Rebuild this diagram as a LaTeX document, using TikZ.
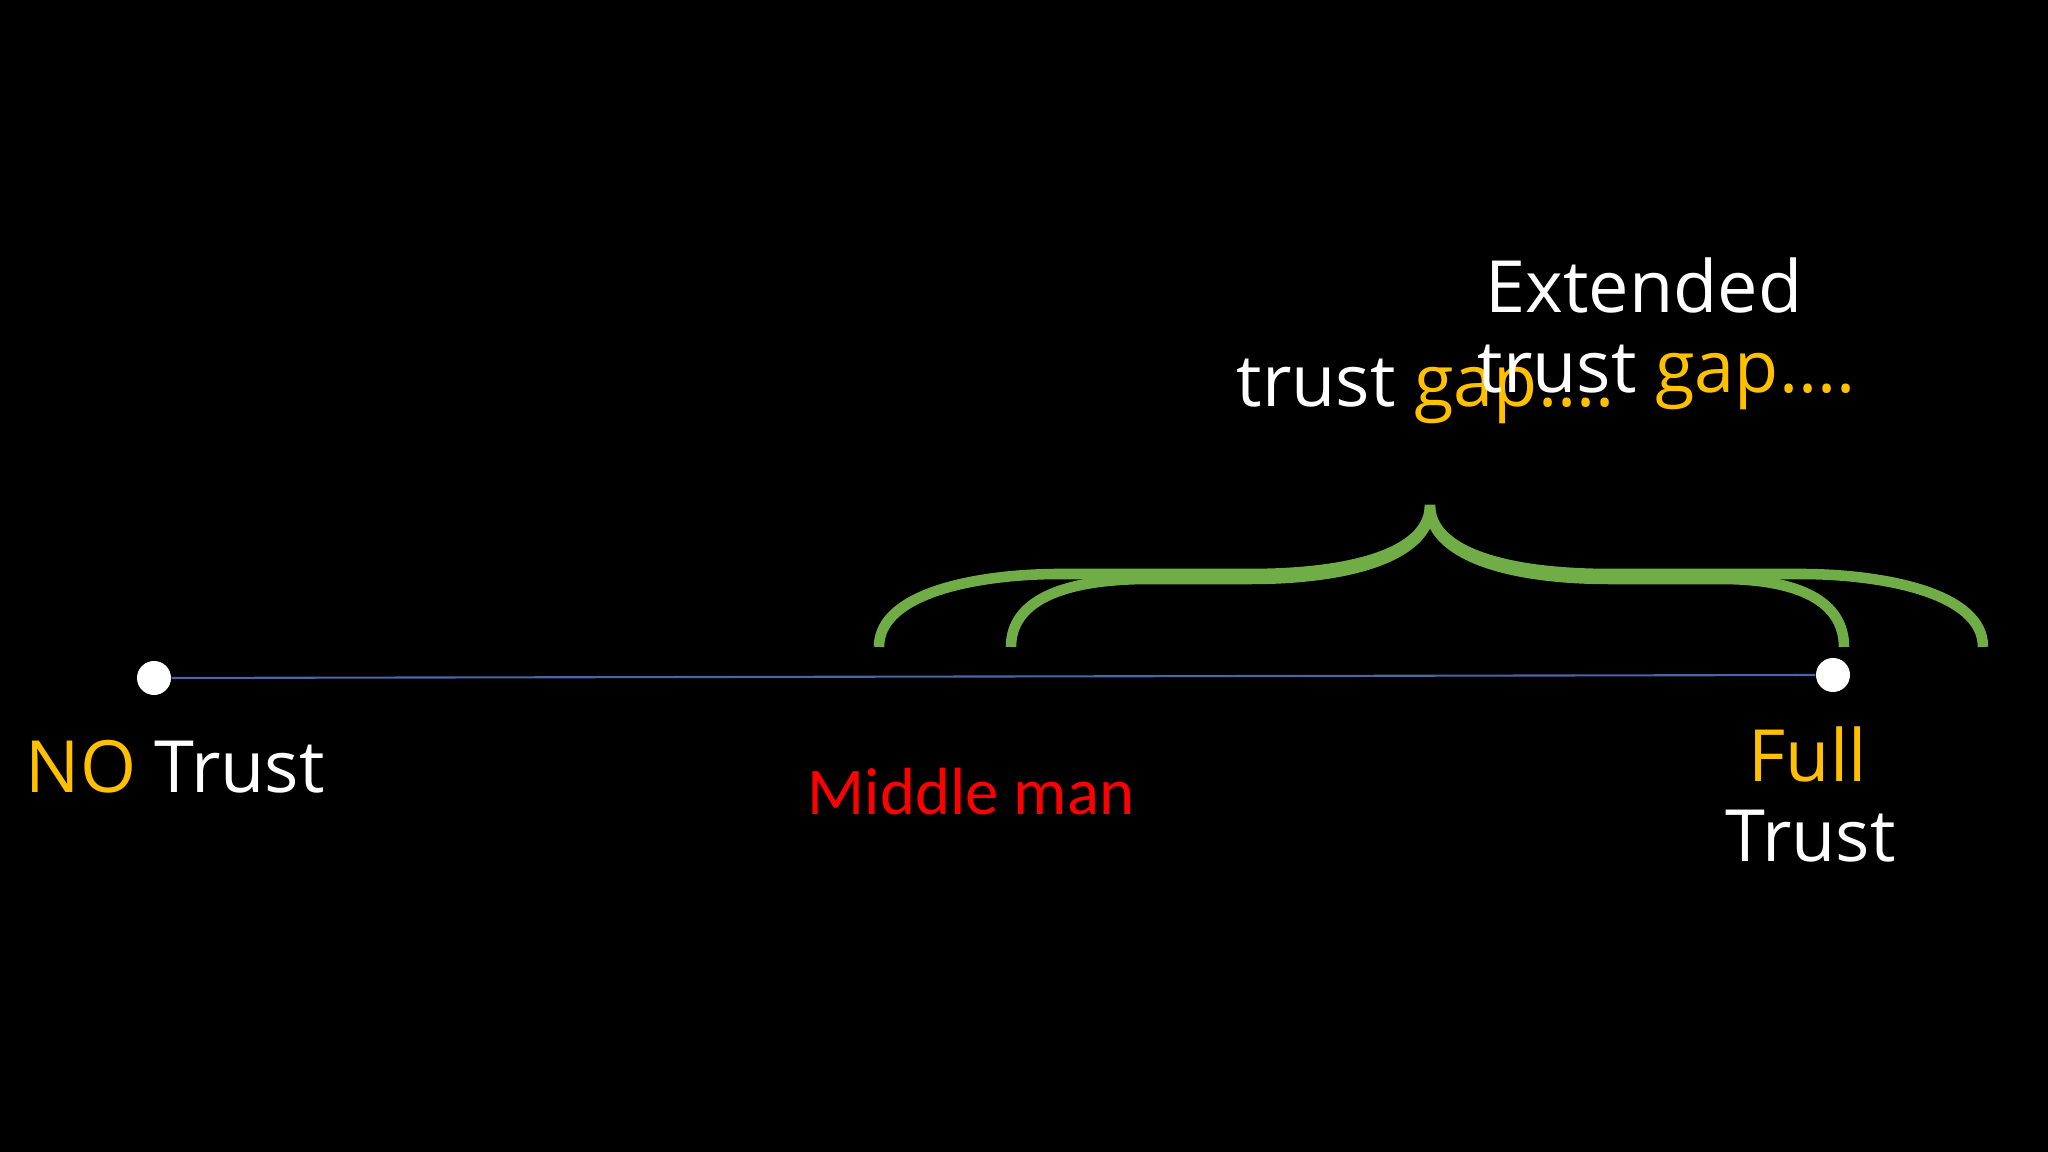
\documentclass[tikz,border=0pt]{standalone}
\usepackage{fontspec}
\setmainfont{Open Sans}
\newfontfamily\calfont{Carlito}
\usetikzlibrary{positioning}
\definecolor{gapyellow}{HTML}{FFC000}
\definecolor{bracegreen}{HTML}{70AD47}
\definecolor{lineblue}{HTML}{4A66A8}

\begin{document}
\begin{tikzpicture}
        \tikzstyle{dot} = [circle, fill=white, inner sep=0pt, minimum size=0.34cm];
        \tikzstyle{label} = [inner sep=0pt, anchor=base west, text=white, font=\fontsize{20.5}{25}\selectfont];
        \tikzstyle{midlabel} = [inner sep=0pt, anchor=base west, text=red, font=\calfont\fontsize{19}{23}\selectfont];
        \tikzstyle{brace} = [bracegreen, line width=3pt];
        \tikzstyle{timeline} = [lineblue, line width=0.6pt];

        \fill[black] (0,0) rectangle (20.48,11.52);

        \draw[brace] (8.79,5.05) .. controls (8.79,5.60) and (9.80,5.78) .. (10.60,5.78) -- (12.50,5.78)
            .. controls (13.60,5.78) and (14.30,6.02) .. (14.30,6.47)
            .. controls (14.30,6.02) and (15.00,5.78) .. (16.10,5.78) -- (18.00,5.78)
            .. controls (18.80,5.78) and (19.83,5.60) .. (19.83,5.05);
        \draw[brace] (10.11,5.05) .. controls (10.11,5.50) and (10.60,5.73) .. (11.50,5.73) -- (12.50,5.73)
            .. controls (13.60,5.73) and (14.30,6.00) .. (14.30,6.45)
            .. controls (14.30,6.00) and (15.00,5.73) .. (16.10,5.73) -- (17.20,5.73)
            .. controls (18.00,5.73) and (18.44,5.50) .. (18.44,5.05);

        \node(notrust) [dot] at (1.54,4.74) {};
        \node(fulltrust) [dot] at (18.33,4.77) {};
        \draw[timeline] (notrust) -- (fulltrust);

        \node(nolabel) [label] at (0.25,3.59) {\textcolor{gapyellow}{NO} Trust};
        \node(middleman) [midlabel] at (8.07,3.37) {Middle man};
        \node(full) [label, text=gapyellow] at (17.48,3.70) {Full};
        \node(trust) [label] at (17.25,2.90) {Trust};

        \node(gapone) [label] at (12.36,7.45) {trust \textcolor{gapyellow}{gap....}};
        \node(gaptwo) [label] at (14.77,7.59) {trust \textcolor{gapyellow}{gap....}};
        \node(extended) [label, anchor=base] at (16.44,8.39) {Extended};

    \end{tikzpicture}
\end{document}
